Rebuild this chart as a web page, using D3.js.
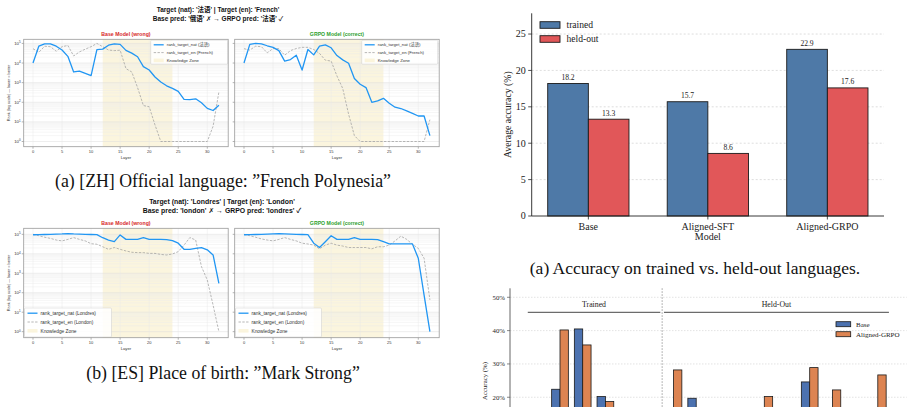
<!DOCTYPE html>
<html>
<head>
<meta charset="utf-8">
<script src="https://cdn.jsdelivr.net/npm/d3@7"></script>
<style>
  body { margin: 0; background: #fff; }
  svg { display: block; }
  .sans { font-family: "Liberation Sans", "Noto Sans CJK SC", "DejaVu Sans", sans-serif; }
  .serif { font-family: "Liberation Serif", "Times New Roman", serif; }
</style>
</head>
<body>
<svg id="fig" width="912" height="407"></svg>
<script>
// ---- layer rank data (rank of target token per layer, log scale) ----
const layers = [0,1,2,3,4,5,6,7,8,9,10,11,12,13,14,15,16,17,18,19,20,21,22,23,24,25,26,27,28,29,30,31,32];
const layerTicks = [0, 5, 10, 15, 20, 25, 30];
const rankTicks = [1, 10, 100, 1000, 10000, 100000];
const knowledgeZone = [12, 24];

// (a) ZH, official language of French Polynesia
const zhBaseNat = [10000, 72000, 95000, 95000, 72000, 46000, 22000, 3500, 3900, 3000, 2300, 48000, 51000, 81000, 95000, 89000, 44000, 32000, 21000, 6600, 4400, 1950, 1070, 690, 510, 360, 140, 138, 150, 95, 49, 38, 71];
const zhBaseEn  = [54000, 35000, 72000, 68000, 40000, 68000, 79000, 23000, 37000, 51000, 68000, 100000, 68000, 46000, 43000, 45000, 5200, 3500, 560, 68, 59, 7, 1, 1, 1, 1, 1, 1, 1, 1, 1, 6, 340];
const zhGrpoNat = [10000, 89000, 100000, 95000, 76000, 63000, 43000, 12600, 15000, 25000, 4400, 49000, 26000, 72000, 85000, 60000, 24000, 14500, 9800, 1620, 830, 560, 100, 117, 158, 89, 56, 48, 36, 27, 20, 20, 2];
const zhGrpoEn  = [54000, 46000, 72000, 68000, 33000, 55000, 54000, 25000, 43000, 55000, 63000, 63000, 49000, 31000, 14000, 12600, 2200, 500, 25, 2, 1, 1, 1, 1, 1, 1, 1, 1, 1, 1, 1, 1, 13];

// (b) ES, place of birth of Mark Strong
const esBaseNat = [95000, 96000, 98000, 100000, 102000, 105000, 110000, 105000, 102000, 100000, 98000, 97000, 67000, 51000, 42000, 93000, 55000, 55000, 55000, 67000, 55000, 55000, 55000, 54000, 47000, 35000, 17000, 17000, 19000, 21000, 16000, 8700, 300];
const esBaseEn  = [100000, 85000, 71000, 62000, 51000, 46000, 55000, 68000, 55000, 46000, 33000, 31000, 23000, 17000, 21000, 17000, 14000, 12000, 11500, 11500, 10500, 10500, 9300, 8700, 9800, 12900, 28000, 68000, 51000, 2200, 450, 23, 1];
const esGrpoNat = [95000, 96000, 98000, 100000, 102000, 105000, 108000, 105000, 102000, 100000, 98000, 97000, 35000, 21000, 42000, 85000, 55000, 55000, 55000, 67000, 55000, 55000, 55000, 54000, 42000, 32000, 32000, 32000, 32000, 32000, 5900, 76, 1];
const esGrpoEn  = [100000, 85000, 71000, 58000, 51000, 46000, 55000, 68000, 55000, 46000, 35000, 32000, 28000, 18000, 28000, 35000, 28000, 25000, 21000, 21000, 21000, 21000, 18000, 23000, 23000, 28000, 46000, 81000, 55000, 31000, 19000, 5900, 43];

// ---- average accuracy bars ----
const models = ["Base", "Aligned-SFT", "Aligned-GRPO"];
const trainedAcc = [18.2, 15.7, 22.9];
const heldOutAcc = [13.3, 8.6, 17.6];
const accTicks = [0, 5, 10, 15, 20, 25];

// ---- per-language accuracy (first 6 groups trained, rest held-out) ----
const langBaseAcc = [12.0, 22.4, 40.5, 20.2, 14.0, 11.0, 13.0, 19.7, 9.0, 12.0, 15.0, 10.0, 24.6, 14.0, 8.0, 13.0];
const langGrpoAcc = [15.0, 40.2, 35.7, 18.7, 16.0, 13.0, 28.2, 15.0, 12.0, 14.0, 20.2, 13.0, 28.9, 22.2, 11.0, 26.7];
const trainedCount = 6;
const pctTicks = [0, 10, 20, 30, 40, 50];

const svg = d3.select("#fig");

function rankPanel(o) {
  const w = 204.5;
  const x0 = o.left, x1 = o.left + w;
  const x = d3.scaleLinear().domain([-1.6, 33.6]).range([x0, x1]);
  const y = d3.scaleLog().domain(o.yDomain).range([o.bottom, o.top]);
  const g = svg.append("g").attr("class", "sans");

  g.append("rect")
    .attr("x", x(knowledgeZone[0])).attr("y", o.top)
    .attr("width", x(knowledgeZone[1]) - x(knowledgeZone[0]))
    .attr("height", o.bottom - o.top)
    .attr("fill", "#f6e7ad").attr("fill-opacity", 0.4);

  // grid: minor log lines, major decades, layer ticks
  const minor = y.ticks().filter(v => v >= 1 && v <= 100000 && !rankTicks.includes(v));
  g.selectAll(".minor").data(minor).join("line")
    .attr("x1", x0).attr("x2", x1)
    .attr("y1", d => y(d)).attr("y2", d => y(d))
    .attr("stroke", "#ebebeb").attr("stroke-width", 0.45);
  g.selectAll(".major").data(rankTicks).join("line")
    .attr("x1", x0).attr("x2", x1)
    .attr("y1", d => y(d)).attr("y2", d => y(d))
    .attr("stroke", "#dcdcdc").attr("stroke-width", 0.5);
  g.selectAll(".vgrid").data(layerTicks).join("line")
    .attr("x1", d => x(d)).attr("x2", d => x(d))
    .attr("y1", o.top).attr("y2", o.bottom)
    .attr("stroke", "#e8e8e8").attr("stroke-width", 0.45);

  const line = d3.line().x((d, i) => x(layers[i])).y(d => y(d));
  g.append("path").datum(o.en).attr("d", line)
    .attr("fill", "none").attr("stroke", "#999").attr("stroke-width", 0.7)
    .attr("stroke-dasharray", "2.4,1.4");
  g.append("path").datum(o.nat).attr("d", line)
    .attr("fill", "none").attr("stroke", "#2196f3").attr("stroke-width", 1.3)
    .attr("stroke-linejoin", "round");

  // y ticks
  g.selectAll(".ytick").data(rankTicks).join("line")
    .attr("x1", x0 - 2).attr("x2", x0)
    .attr("y1", d => y(d)).attr("y2", d => y(d))
    .attr("stroke", "#666").attr("stroke-width", 0.5);
  if (o.yLabels) {
    const t = g.selectAll(".ylab").data(rankTicks).join("text")
      .attr("x", x0 - 3).attr("y", d => y(d) + 1.6)
      .attr("text-anchor", "end").attr("font-size", 4.3).attr("fill", "#333");
    t.append("tspan").text("10");
    t.append("tspan").attr("dy", -1.7).attr("font-size", 3).text(d => Math.round(Math.log10(d)));
    g.append("text")
      .attr("transform", `translate(${o.yTitleX},${(o.top + o.bottom) / 2}) rotate(-90)`)
      .attr("text-anchor", "middle").attr("font-size", 3.8).attr("fill", "#333")
      .text("Rank (log scale) \u2014 lower = better");
  }

  // x ticks
  g.selectAll(".xtick").data(layerTicks).join("line")
    .attr("x1", d => x(d)).attr("x2", d => x(d))
    .attr("y1", o.bottom).attr("y2", o.bottom + 2)
    .attr("stroke", "#666").attr("stroke-width", 0.5);
  g.selectAll(".xlab").data(layerTicks).join("text")
    .attr("x", d => x(d)).attr("y", o.bottom + 6.3)
    .attr("text-anchor", "middle").attr("font-size", 4).attr("fill", "#333")
    .text(d => d);
  g.append("text").attr("x", (x0 + x1) / 2).attr("y", o.bottom + 12)
    .attr("text-anchor", "middle").attr("font-size", 4.2).attr("fill", "#333").text("Layer");

  g.append("text").attr("x", (x0 + x1) / 2).attr("y", o.top - 3.3)
    .attr("text-anchor", "middle").attr("font-size", 5.2).attr("font-weight", "bold")
    .attr("fill", o.titleColor).text(o.title);

  // legend
  const L = o.legend;
  const lg = g.append("g").attr("transform", `translate(${L.x},${L.y})`);
  lg.append("rect").attr("width", L.w).attr("height", L.h).attr("rx", 1)
    .attr("fill", "#fff").attr("fill-opacity", 0.85).attr("stroke", "#ccc").attr("stroke-width", 0.5);
  const items = [
    { label: `rank_target_nat (${o.natName})`, kind: "nat" },
    { label: `rank_target_en (${o.enName})`, kind: "en" },
    { label: "Knowledge Zone", kind: "zone" }
  ];
  items.forEach((it, i) => {
    const cy = L.pad + i * L.row;
    if (it.kind === "zone") {
      lg.append("rect").attr("x", 3).attr("y", cy - 1.8).attr("width", 10).attr("height", 3.6)
        .attr("fill", "#f6e7ad").attr("fill-opacity", 0.4);
    } else {
      lg.append("line").attr("x1", 3).attr("x2", 13).attr("y1", cy).attr("y2", cy)
        .attr("stroke", it.kind === "nat" ? "#2196f3" : "#999")
        .attr("stroke-width", it.kind === "nat" ? 1.3 : 0.7)
        .attr("stroke-dasharray", it.kind === "nat" ? null : "2.4,1.4");
    }
    lg.append("text").attr("x", 16).attr("y", cy + L.fs * 0.36)
      .attr("font-size", L.fs).attr("fill", "#333").text(it.label);
  });

  g.append("rect").attr("x", x0).attr("y", o.top).attr("width", w).attr("height", o.bottom - o.top)
    .attr("fill", "none").attr("stroke", "#999").attr("stroke-width", 0.8);
}

function suptitle(cx, y, size, lines) {
  const t = svg.append("g").attr("class", "sans");
  lines.forEach((s, i) => {
    t.append("text").attr("x", cx).attr("y", y + i * 8.6)
      .attr("text-anchor", "middle").attr("font-size", size).attr("font-weight", "bold")
      .attr("fill", "#111").text(s);
  });
}

// ---- (a) ZH ----
suptitle(218, 12, 6.5, ["Target (nat): '\u6cd5\u8bed'  |  Target (en): 'French'",
                        "Base pred: '\u4fc4\u8bed' \u2717  \u2192  GRPO pred: '\u6cd5\u8bed' \u2713"]);
const yDomA = [Math.pow(10, -0.265), Math.pow(10, 5.21)];
rankPanel({ left: 23.7, top: 39.3, bottom: 146.7, yDomain: yDomA, nat: zhBaseNat, en: zhBaseEn,
  title: "Base Model (wrong)", titleColor: "#d62728", yLabels: true, yTitleX: 9.5,
  natName: "\u6cd5\u8bed", enName: "French",
  legend: { x: 150.7, y: 40.2, w: 77, h: 24, pad: 4.6, row: 7.8, fs: 4.3 } });
rankPanel({ left: 234.7, top: 39.3, bottom: 146.7, yDomain: yDomA, nat: zhGrpoNat, en: zhGrpoEn,
  title: "GRPO Model (correct)", titleColor: "#2ca02c", yLabels: false,
  natName: "\u6cd5\u8bed", enName: "French",
  legend: { x: 361.7, y: 40.2, w: 76, h: 24, pad: 4.6, row: 7.8, fs: 4.3 } });

// ---- (b) ES ----
suptitle(222, 204, 6.9, ["Target (nat): 'Londres'  |  Target (en): 'London'",
                         "Base pred: 'london' \u2717  \u2192 GRPO pred: 'londres' \u2713"]);
const yDomB = [Math.pow(10, -0.31), Math.pow(10, 5.31)];
rankPanel({ left: 23.7, top: 228.3, bottom: 337.7, yDomain: yDomB, nat: esBaseNat, en: esBaseEn,
  title: "Base Model (wrong)", titleColor: "#d62728", yLabels: true, yTitleX: 9.5,
  natName: "Londres", enName: "London",
  legend: { x: 24.5, y: 308, w: 87, h: 29, pad: 5.2, row: 8.8, fs: 4.8 } });
rankPanel({ left: 234.7, top: 228.3, bottom: 337.7, yDomain: yDomB, nat: esGrpoNat, en: esGrpoEn,
  title: "GRPO Model (correct)", titleColor: "#2ca02c", yLabels: false,
  natName: "Londres", enName: "London",
  legend: { x: 235.5, y: 308, w: 86, h: 29, pad: 5.2, row: 8.8, fs: 4.8 } });

// captions
svg.append("text").attr("class", "serif").attr("x", 223).attr("y", 187)
  .attr("text-anchor", "middle").attr("font-size", 17.8).attr("fill", "#111")
  .text("(a) [ZH] Official language: \u201dFrench Polynesia\u201d");
svg.append("text").attr("class", "serif").attr("x", 223).attr("y", 379)
  .attr("text-anchor", "middle").attr("font-size", 17.8).attr("fill", "#111")
  .text("(b) [ES] Place of birth: \u201dMark Strong\u201d");

// ---- average accuracy bar chart ----
(function () {
  const left = 531.7, right = 884, top = 13.3, bottom = 216;
  const barW = 0.34;
  const x = d3.scaleLinear().domain([-0.474, 2.474]).range([left, right]);
  const y = d3.scaleLinear().domain([0, 27.85]).range([bottom, top]);
  const g = svg.append("g").attr("class", "serif");

  g.selectAll(".grid").data(accTicks.slice(1)).join("line")
    .attr("x1", left).attr("x2", right).attr("y1", d => y(d)).attr("y2", d => y(d))
    .attr("stroke", "#c8c8c8").attr("stroke-width", 0.6).attr("stroke-dasharray", "2,2");

  const series = [
    { vals: trainedAcc, off: -barW, color: "#4e79a7" },
    { vals: heldOutAcc, off: 0, color: "#e15759" }
  ];
  series.forEach(s => {
    g.selectAll(null).data(s.vals).join("rect")
      .attr("x", (d, i) => x(i + s.off)).attr("width", x(barW) - x(0))
      .attr("y", d => y(d)).attr("height", d => bottom - y(d))
      .attr("fill", s.color).attr("stroke", "#1a1a1a").attr("stroke-width", 0.9);
    g.selectAll(null).data(s.vals).join("text")
      .attr("x", (d, i) => x(i + s.off + barW / 2)).attr("y", d => y(d) - 3.5)
      .attr("text-anchor", "middle").attr("font-size", 7.6).attr("fill", "#222")
      .text(d => d.toFixed(1));
  });

  g.append("line").attr("x1", left).attr("x2", left).attr("y1", top).attr("y2", bottom)
    .attr("stroke", "#222").attr("stroke-width", 0.9);
  g.append("line").attr("x1", left).attr("x2", right).attr("y1", bottom).attr("y2", bottom)
    .attr("stroke", "#222").attr("stroke-width", 0.9);

  g.selectAll(".yt").data(accTicks).join("line")
    .attr("x1", left - 3.5).attr("x2", left).attr("y1", d => y(d)).attr("y2", d => y(d))
    .attr("stroke", "#222").attr("stroke-width", 0.8);
  g.selectAll(".yl").data(accTicks).join("text")
    .attr("x", left - 6).attr("y", d => y(d) + 3.4).attr("text-anchor", "end")
    .attr("font-size", 10).attr("fill", "#222").text(d => d);
  g.selectAll(".xt").data(models).join("line")
    .attr("x1", (d, i) => x(i)).attr("x2", (d, i) => x(i)).attr("y1", bottom).attr("y2", bottom + 3.5)
    .attr("stroke", "#222").attr("stroke-width", 0.8);
  g.selectAll(".xl").data(models).join("text")
    .attr("x", (d, i) => x(i)).attr("y", bottom + 13.5).attr("text-anchor", "middle")
    .attr("font-size", 10).attr("fill", "#222").text(d => d);
  g.append("text").attr("x", (left + right) / 2).attr("y", bottom + 24)
    .attr("text-anchor", "middle").attr("font-size", 10).attr("fill", "#222").text("Model");
  g.append("text")
    .attr("transform", `translate(511,${(top + bottom) / 2}) rotate(-90)`)
    .attr("text-anchor", "middle").attr("font-size", 9.8).attr("fill", "#222")
    .text("Average accuracy (%)");

  const leg = [["trained", "#4e79a7"], ["held-out", "#e15759"]];
  leg.forEach(([lab, col], i) => {
    g.append("rect").attr("x", 540).attr("y", 21.7 + i * 14).attr("width", 20).attr("height", 6.6)
      .attr("fill", col).attr("stroke", "#1a1a1a").attr("stroke-width", 0.9);
    g.append("text").attr("x", 566.5).attr("y", 28.3 + i * 14).attr("font-size", 9.6)
      .attr("fill", "#222").text(lab);
  });

  g.append("text").attr("x", 695).attr("y", 274).attr("text-anchor", "middle")
    .attr("font-size", 17.5).attr("fill", "#111")
    .text("(a) Accuracy on trained vs. held-out languages.");
})();

// ---- per-language accuracy chart (cut off at bottom) ----
(function () {
  const axisX = 510, gridRight = 906.7, top = 288.3, viewBottom = 407;
  const x = d3.scaleLinear().domain([0, 15]).range([537.3, 877.8]);
  const y = d3.scaleLinear().domain([0, 52.7]).range([463.9, top]);
  const bw = x(0.368) - x(0);
  const g = svg.append("g").attr("class", "serif");

  g.selectAll(".grid").data(pctTicks).join("line")
    .attr("x1", axisX).attr("x2", gridRight).attr("y1", d => y(d)).attr("y2", d => y(d))
    .attr("stroke", "#d0d0d0").attr("stroke-width", 0.6).attr("stroke-dasharray", "1.5,1.5");

  g.append("line").attr("x1", x(trainedCount - 0.5)).attr("x2", x(trainedCount - 0.5))
    .attr("y1", top).attr("y2", y(0))
    .attr("stroke", "#777").attr("stroke-width", 0.7).attr("stroke-dasharray", "1.5,1.5");

  const series = [
    { vals: langBaseAcc, off: -0.368, color: "#4c72b0" },
    { vals: langGrpoAcc, off: 0, color: "#dd8452" }
  ];
  series.forEach(s => {
    g.selectAll(null).data(s.vals).join("rect")
      .attr("x", (d, i) => x(i + s.off)).attr("width", bw)
      .attr("y", d => y(d)).attr("height", d => y(0) - y(d))
      .attr("fill", s.color).attr("stroke", "#1a1a1a").attr("stroke-width", 0.8);
  });

  g.append("line").attr("x1", axisX).attr("x2", axisX).attr("y1", top).attr("y2", y(0))
    .attr("stroke", "#555").attr("stroke-width", 0.9);
  g.selectAll(".yt").data(pctTicks).join("line")
    .attr("x1", axisX - 3).attr("x2", axisX).attr("y1", d => y(d)).attr("y2", d => y(d))
    .attr("stroke", "#555").attr("stroke-width", 0.7);
  // only labels that fall inside the visible area
  g.selectAll(".yl").data(pctTicks.filter(d => y(d) < viewBottom - 4)).join("text")
    .attr("x", axisX - 5).attr("y", d => y(d) + 2.4).attr("text-anchor", "end")
    .attr("font-size", 6.8).attr("fill", "#222").text(d => d + "%");
  g.append("text")
    .attr("transform", `translate(487,381) rotate(-90)`)
    .attr("text-anchor", "middle").attr("font-size", 6.8).attr("fill", "#222").text("Accuracy (%)");

  const spans = [
    { label: "Trained", a: -0.42, b: trainedCount - 0.58 },
    { label: "Held-Out", a: trainedCount - 0.42, b: langBaseAcc.length - 0.51 }
  ];
  spans.forEach(s => {
    g.append("line").attr("x1", x(s.a)).attr("x2", x(s.b)).attr("y1", 312.3).attr("y2", 312.3)
      .attr("stroke", "#333").attr("stroke-width", 0.9);
    g.append("text").attr("x", (x(s.a) + x(s.b)) / 2).attr("y", 307)
      .attr("text-anchor", "middle").attr("font-size", 7.8).attr("fill", "#222").text(s.label);
  });

  const leg = [["Base", "#4c72b0"], ["Aligned-GRPO", "#dd8452"]];
  leg.forEach(([lab, col], i) => {
    g.append("rect").attr("x", 836).attr("y", 321.7 + i * 10).attr("width", 14.7).attr("height", 5)
      .attr("fill", col).attr("stroke", "#1a1a1a").attr("stroke-width", 0.8);
    g.append("text").attr("x", 856).attr("y", 326.6 + i * 10).attr("font-size", 7)
      .attr("fill", "#222").text(lab);
  });
})();
</script>
</body>
</html>
